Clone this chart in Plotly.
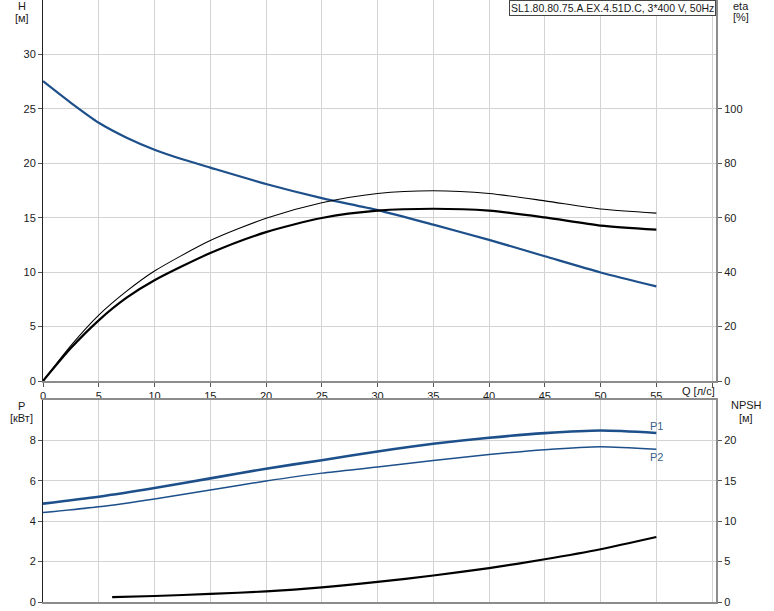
import plotly.graph_objects as go

# ---------------- data ----------------
q_h = [0, 2.5, 5, 7.5, 10, 12.5, 15, 20, 25, 30, 35, 40, 45, 50, 55]
h_vals = [27.54, 25.55, 23.72, 22.35, 21.25, 20.37, 19.6, 18.1, 16.8, 15.7, 14.36, 12.96, 11.46, 9.97, 8.69]

q_eta = [0, 2.5, 5, 7.5, 10, 15, 20, 25, 30, 35, 40, 45, 50, 55]
eta_thin = [0, 13.0, 24.2, 33.0, 40.4, 51.6, 59.8, 65.5, 68.9, 69.9, 68.9, 66.2, 63.2, 61.7]
eta_thick = [0, 12.1, 22.3, 30.6, 37.0, 47.0, 54.7, 59.9, 62.6, 63.3, 62.6, 60.1, 57.1, 55.6]

q_p = [0, 5, 10, 15, 20, 25, 30, 35, 40, 45, 50, 55]
p1_vals = [4.87, 5.21, 5.64, 6.12, 6.6, 7.02, 7.45, 7.83, 8.13, 8.36, 8.49, 8.37]
p2_vals = [4.43, 4.71, 5.1, 5.55, 5.99, 6.38, 6.68, 7.0, 7.3, 7.54, 7.69, 7.56]

q_npsh = [6.2, 10, 15, 20, 25, 30, 35, 40, 45, 50, 55]
npsh_vals = [0.61, 0.74, 1.0, 1.31, 1.8, 2.48, 3.28, 4.19, 5.29, 6.53, 8.04]

x_ticks = [0, 5, 10, 15, 20, 25, 30, 35, 40, 45, 50, 55, 60]
x_ticktext = ["0", "5", "10", "15", "20", "25", "30", "35", "40", "45", "50", "55", ""]
h_ticks = [0, 5, 10, 15, 20, 25, 30]
eta_ticks = [0, 20, 40, 60, 80, 100]
p_ticks = [0, 2, 4, 6, 8]
npsh_ticks = [0, 5, 10, 15, 20]

title_text = "SL1.80.80.75.A.EX.4.51D.C, 3*400 V, 50Hz"

# ---------------- layout geometry ----------------
W, H = 774, 611
L, R, T, B = 43, 716, 0, 602
BLUE = "#1d4f8a"
GRID = "#d3d3d3"
AXG = "#8c8c8c"
FONT = "Liberation Sans, Arial, sans-serif"
SM = 0.7

def px(x):
    return (x - L) / (R - L)

def py(y):
    return (B - y) / (B - T)

top_dom = [py(381), 1.0]
bot_dom = [0.0, py(400)]

fig = go.Figure()

fig.add_trace(go.Scatter(x=q_eta, y=eta_thin, xaxis="x", yaxis="y2", mode="lines",
                         line=dict(color="black", width=1.1, shape="spline", smoothing=SM), showlegend=False))
fig.add_trace(go.Scatter(x=q_eta, y=eta_thick, xaxis="x", yaxis="y2", mode="lines",
                         line=dict(color="black", width=2.2, shape="spline", smoothing=SM), showlegend=False))
fig.add_trace(go.Scatter(x=q_h, y=h_vals, xaxis="x", yaxis="y", mode="lines",
                         line=dict(color=BLUE, width=2.2, shape="spline", smoothing=SM), showlegend=False))

fig.add_trace(go.Scatter(x=q_p, y=p1_vals, xaxis="x2", yaxis="y3", mode="lines",
                         line=dict(color=BLUE, width=2.6, shape="spline", smoothing=SM), showlegend=False))
fig.add_trace(go.Scatter(x=q_p, y=p2_vals, xaxis="x2", yaxis="y3", mode="lines",
                         line=dict(color=BLUE, width=1.5, shape="spline", smoothing=SM), showlegend=False))
fig.add_trace(go.Scatter(x=q_npsh, y=npsh_vals, xaxis="x2", yaxis="y4", mode="lines",
                         line=dict(color="black", width=2.2, shape="spline", smoothing=SM), showlegend=False))

xr = [0, 60.35]
tickfont = dict(family=FONT, size=11, color="#1a1a1a")

fig.update_layout(
    width=W, height=H,
    margin=dict(l=L, r=W - R, t=T, b=H - B, pad=0, autoexpand=False),
    paper_bgcolor="white", plot_bgcolor="white",
    font=dict(family=FONT, size=11, color="#1a1a1a"),
    xaxis=dict(domain=[0, 1], anchor="y", range=xr, tickvals=x_ticks, ticktext=x_ticktext,
               showgrid=True, gridcolor=GRID, gridwidth=1, zeroline=False, automargin=False,
               showline=True, linecolor=AXG, linewidth=2, ticks="outside", ticklen=4,
               tickcolor="#555", tickfont=tickfont),
    yaxis=dict(domain=top_dom, anchor="x", range=[0, 35], tickvals=h_ticks,
               showgrid=True, gridcolor=GRID, gridwidth=1, zeroline=False, automargin=False,
               showline=True, linecolor="#222", linewidth=1, ticks="outside", ticklen=4,
               tickcolor="#555", tickfont=tickfont),
    yaxis2=dict(overlaying="y", side="right", anchor="x", range=[0, 140], tickvals=eta_ticks,
                showgrid=False, zeroline=False, showline=True, linecolor=AXG, linewidth=2,
                automargin=False,
                ticks="outside", ticklen=4, tickcolor="#555", tickfont=tickfont),
    xaxis2=dict(domain=[0, 1], anchor="y3", range=xr, tickvals=x_ticks,
                showgrid=True, gridcolor=GRID, gridwidth=1, zeroline=False, automargin=False,
                showline=True, mirror=True, linecolor=AXG, linewidth=2, ticks="",
                showticklabels=False),
    yaxis3=dict(domain=bot_dom, anchor="x2", range=[0, 10], tickvals=p_ticks,
                showgrid=True, gridcolor=GRID, gridwidth=1, zeroline=False, automargin=False,
                showline=True, linecolor="#222", linewidth=1, ticks="outside", ticklen=4,
                tickcolor="#555", tickfont=tickfont),
    yaxis4=dict(overlaying="y3", side="right", anchor="x2", range=[0, 25], tickvals=npsh_ticks,
                showgrid=False, zeroline=False, showline=True, linecolor=AXG, linewidth=2,
                automargin=False,
                ticks="outside", ticklen=4, tickcolor="#555", tickfont=tickfont),
)

anns = []
def lab(text, x, y, xanchor="center"):
    anns.append(dict(text=text, xref="paper", yref="paper", x=px(x), y=py(y),
                     xanchor=xanchor, yanchor="middle", showarrow=False,
                     font=dict(family=FONT, size=11, color="#1a1a1a")))

lab("H", 22, 6)
lab("[м]", 22, 18)
lab("eta", 741, 6)
lab("[%]", 741, 17)
lab("P", 21, 406)
lab("[кВт]", 21, 418)
lab("NPSH", 746, 405)
lab("[м]", 746, 418)
lab("Q [л/с]", 698, 391)

anns.append(dict(text=title_text, xref="paper", yref="paper", x=1, y=1,
                 xanchor="right", yanchor="top", showarrow=False,
                 bgcolor="white", bordercolor="#444", borderwidth=1, borderpad=1,
                 font=dict(family=FONT, size=10.5, color="#1a1a1a")))

anns.append(dict(text="P1", xref="x2", yref="y3", x=55, y=8.73, xanchor="center",
                 yanchor="middle", showarrow=False, font=dict(family=FONT, size=11, color="#3a5f8a")))
anns.append(dict(text="P2", xref="x2", yref="y3", x=55, y=7.2, xanchor="center",
                 yanchor="middle", showarrow=False, font=dict(family=FONT, size=11, color="#3a5f8a")))

fig.update_layout(annotations=anns)

fig.write_html("out.html",
               config={"displayModeBar": False},
               post_script="document.body.style.margin='0';document.body.style.padding='0';"
                           "document.documentElement.style.overflow='hidden';")
